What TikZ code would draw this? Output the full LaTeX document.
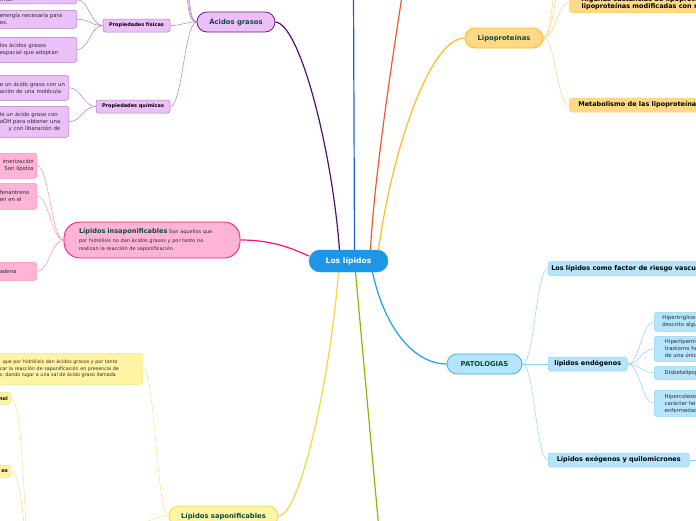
\documentclass[tikz,border=0pt]{standalone}
\usepackage{fontspec}
\setmainfont{DejaVu Sans}
\usetikzlibrary{backgrounds}

\definecolor{rootblue}{HTML}{1E96E8}
\definecolor{dkgreen}{HTML}{0D4A3A}
\definecolor{textgray}{HTML}{2E2E2E}
\definecolor{purpfill}{HTML}{EBC0F8}
\definecolor{purpline}{HTML}{6B2080}
\definecolor{purpbranch}{HTML}{4B1272}
\definecolor{purpsoft}{HTML}{B27CC6}
\definecolor{pinkfill}{HTML}{FFB3D7}
\definecolor{pinkline}{HTML}{F0157A}
\definecolor{pinksoft}{HTML}{F48FC0}
\definecolor{yelfill}{HTML}{FFF4A3}
\definecolor{yelline}{HTML}{F2D83C}
\definecolor{yelsoft}{HTML}{F4E48A}
\definecolor{orgfill}{HTML}{FFD985}
\definecolor{orgline}{HTML}{FFBB22}
\definecolor{orgsoft}{HTML}{FFD27A}
\definecolor{bluefill}{HTML}{B5E5FB}
\definecolor{blueline}{HTML}{3AB0EE}
\definecolor{bluebranch}{HTML}{18A3EA}
\definecolor{bluesoft}{HTML}{8ED4F6}
\definecolor{topblue}{HTML}{1C5ED3}
\definecolor{redor}{HTML}{F05A28}
\definecolor{grnline}{HTML}{86BC00}

\begin{document}
\begin{tikzpicture}[
    x=1pt, y=-1pt,
    rootnode/.style={fill=rootblue, draw=rootblue, rounded corners=11pt, text=white, font=\bfseries\fontsize{7.6}{9}\selectfont, minimum width=79pt, minimum height=22pt, inner sep=0pt},
    topic/.style={rounded corners=10pt, line width=0.8pt, text=dkgreen, font=\bfseries\fontsize{6.8}{8}\selectfont, minimum height=20pt, inner sep=0pt},
    subtopic/.style={rounded corners=2.5pt, line width=0.5pt, text=black, font=\bfseries\fontsize{5}{6}\selectfont, minimum height=13pt, inner xsep=3pt, inner ysep=0pt},
    bigsub/.style={subtopic, font=\bfseries\fontsize{6.5}{7.2}\selectfont, minimum height=14pt, align=left},
    leaf/.style={rounded corners=2.5pt, line width=0.5pt, text=textgray, font=\fontsize{5.4}{6.8}\selectfont, align=left, inner xsep=3pt, inner ysep=0pt},
    branch/.style={line width=1.2pt},
    twig/.style={line width=0.5pt},
    sprL/.style={to path={.. controls +(-#1,0) and +(#1,0) .. (\tikztotarget)}}, sprL/.default=12,
    sprR/.style={to path={.. controls +(#1,0) and +(-#1,0) .. (\tikztotarget)}}, sprR/.default=12
]
  \useasboundingbox (0,0) rectangle (696,520);
  \clip (0,0) rectangle (696,520);

  \node[rootnode] (lip) at (348.5,261) {Los lípidos};

  % Ácidos grasos
  \node[topic, fill=purpfill, draw=purpline, minimum width=78pt] (acid) at (236,22) {Ácidos grasos};
  \node[subtopic, fill=purpfill, draw=purpsoft, minimum width=67pt] (fis) at (136.5,25.5) {Propiedades físicas};
  \node[subtopic, fill=purpfill, draw=purpsoft, minimum width=74pt] (quim) at (133,106.5) {Propiedades químicas};
  \node[leaf, fill=purpfill, draw=purpsoft, anchor=south east, text width=74pt, inner ysep=2pt] (f1) at (77,4) {rmal.};
  \node[leaf, fill=purpfill, draw=purpsoft, anchor=north east, text width=74pt, minimum height=18pt] (f2) at (77,10) {energía necesaria para\\es.};
  \node[leaf, fill=purpfill, draw=purpsoft, anchor=north east, text width=74pt, minimum height=25pt] (f3) at (77,37) {los ácidos grasos\\espacial que adoptan};
  \node[leaf, fill=purpfill, draw=purpsoft, anchor=north east, text width=66pt, minimum height=25pt] (q1) at (69,75) {e un ácido graso con un\\ación de una molécula};
  \node[leaf, fill=purpfill, draw=purpsoft, anchor=north east, text width=66pt, minimum height=31pt] (q2) at (69,106) {le un ácido graso con\\aOH para obtener una\\\hspace*{9pt}y con liberación de};

  % Lípidos insaponificables
  \node[topic, fill=pinkfill, draw=pinkline, minimum width=176pt, minimum height=36pt, rounded corners=16pt, align=left, text width=146pt, text=textgray, font=\fontsize{5}{8.2}\selectfont] (insap) at (152,240) {{\color{dkgreen}\bfseries\fontsize{6.6}{8.2}\selectfont Lípidos insaponificables} Son aquellos que\\por hidrólisis no dan ácidos grasos y por tanto no\\realizan la reacción de saponificación.};
  \node[leaf, fill=pinkfill, draw=pinksoft, anchor=north east, text width=34pt, minimum height=25pt, align=right] (p1) at (37,153) {imerización\\Son lípidos};
  \node[leaf, fill=pinkfill, draw=pinksoft, anchor=north east, text width=34pt, minimum height=26pt] (p2) at (37,183) {fenantreno\\en en el};
  \node[leaf, fill=pinkfill, draw=pinksoft, anchor=north east, text width=34pt, minimum height=18pt] (p3) at (37,262) {adena};

  % Lípidos saponificables
  \node[topic, fill=yelfill, draw=yelline, minimum width=109pt] (sapo) at (223.5,516) {Lípidos saponificables};
  \node[leaf, fill=yelfill, draw=yelsoft, anchor=north east, text width=140pt, minimum height=31pt, font=\fontsize{4.8}{6.6}\selectfont] (s1) at (143,353) {\hspace*{3pt}que por hidrólisis dan ácidos grasos y por tanto\\car la reacción de saponificación en presencia de\\s, dando lugar a una sal de ácido graso llamada};
  \node[subtopic, fill=yelfill, draw=yelsoft, anchor=north east, minimum height=12pt, align=right, text width=20pt] (s2) at (11,392) {nol};
  \node[subtopic, fill=yelfill, draw=yelsoft, anchor=north east, minimum height=12pt, align=right, text width=20pt] (s3) at (11,465) {os};

  % Lipoproteínas
  \node[topic, fill=orgfill, draw=orgline, minimum width=78pt] (lipo) at (504,38) {Lipoproteínas};
  \node[bigsub, fill=orgfill, draw=orgsoft, anchor=south west, minimum width=160pt, inner ysep=3pt] (alg) at (569,13) {Algunas sustancias de lipoproteínas\\lipoproteínas modificadas con riesgo};
  \node[bigsub, fill=orgfill, draw=orgsoft, anchor=west, minimum width=140pt] (meta) at (569,105) {Metabolismo de las lipoproteínas};

  % Patologías
  \node[topic, fill=bluefill, draw=blueline, minimum width=75pt] (pato) at (484.5,364) {PATOLOGIAS};
  \node[bigsub, fill=bluefill, draw=bluesoft, anchor=west, minimum width=160pt] (riesgo) at (548,268.5) {Los lípidos como factor de riesgo vascular};
  \node[bigsub, fill=bluefill, draw=bluesoft, anchor=west, minimum width=79pt] (endo) at (548,364) {lípidos endógenos};
  \node[bigsub, fill=bluefill, draw=bluesoft, anchor=west, minimum width=141pt] (exo) at (548,460) {Lípidos exógenos y quilomicrones};
  \node[leaf, fill=bluefill, draw=bluesoft, anchor=north west, minimum width=60pt, minimum height=19pt] (e1) at (654,312) {Hipertrigliceride\\descrito algun};
  \node[leaf, fill=bluefill, draw=bluesoft, anchor=north west, minimum width=60pt, minimum height=25pt] (e2) at (654,336) {Hiperlipemia f\\trastorno here\\de una única};
  \node[leaf, fill=bluefill, draw=bluesoft, anchor=north west, minimum width=60pt, minimum height=13pt] (e3) at (654,366) {Disbetalipopro};
  \node[leaf, fill=bluefill, draw=bluesoft, anchor=north west, minimum width=60pt, minimum height=26pt] (e4) at (654,390) {Hipercolestero\\carácter here\\enfermedad c};

  % ends of branches that leave the frame
  \coordinate (btop) at (353.5,-10);
  \coordinate (rtop) at (403,-10);
  \coordinate (gbot) at (379,530);
  \coordinate (au1) at (178,-80);
  \coordinate (au2) at (181,-130);
  \coordinate (au3) at (184,-190);
  \coordinate (lo1) at (569,-45);
  \coordinate (lo2) at (569,-100);
  \coordinate (spar) at (32,640);
  \coordinate (exr) at (720,460);

  \begin{scope}[on background layer]
    \clip (0,0) rectangle (696,520);
    \draw[branch, purpbranch] (acid.east) .. controls (300,24) and (332,150) .. ([xshift=-9pt]lip.north);
    \draw[branch, topblue] ([xshift=6pt]lip.north) -- (btop);
    \draw[branch, redor] ([xshift=22pt]lip.north) .. controls (374,180) and (392,60) .. (rtop);
    \draw[branch, orgline] ([xshift=30pt]lip.north) .. controls (392,150) and (430,38) .. (lipo.west);
    \draw[branch, pinkline] (insap.east) .. controls (275,240) and (295,250) .. ([yshift=5pt]lip.west);
    \draw[branch, yelline] (sapo.east) .. controls (300,516) and (330,380) .. ([xshift=-10pt]lip.south);
    \draw[branch, grnline] ([xshift=7pt]lip.south) -- (gbot);
    \draw[branch, bluebranch] ([xshift=24pt]lip.south) .. controls (385,330) and (415,364) .. (pato.west);

    \draw[twig, purpsoft] (acid.west) to[sprL] (fis.east);
    \draw[twig, purpsoft] (acid.west) to[sprL] (quim.east);
    \draw[twig, purpsoft] (acid.west) to[sprL=20] (au1);
    \draw[twig, purpsoft] (acid.west) to[sprL=20] (au2);
    \draw[twig, purpsoft] (acid.west) to[sprL=20] (au3);
    \draw[twig, purpsoft] (fis.west) to[sprL] (f1.east);
    \draw[twig, purpsoft] (fis.west) to[sprL] (f2.east);
    \draw[twig, purpsoft] (fis.west) to[sprL] (f3.east);
    \draw[twig, purpsoft] (quim.west) to[sprL] (q1.east);
    \draw[twig, purpsoft] (quim.west) to[sprL] (q2.east);

    \draw[twig, pinksoft] (insap.west) to[sprL] (p1.east);
    \draw[twig, pinksoft] (insap.west) to[sprL] (p2.east);
    \draw[twig, pinksoft] (insap.west) to[sprL] (p3.east);

    \draw[twig, yelsoft] (sapo.west) to[sprL] (s1.east);
    \draw[twig, yelsoft] (sapo.west) to[sprL=60] (spar);
    \draw[twig, yelsoft] (s2.east) .. controls (22,398) and (24,500) .. (spar);
    \draw[twig, yelsoft] (s3.east) .. controls (22,471) and (26,540) .. (spar);

    \draw[twig, orgsoft] (lipo.east) to[sprR] (alg.west);
    \draw[twig, orgsoft] (lipo.east) to[sprR] (meta.west);
    \draw[twig, orgsoft] (lipo.east) to[sprR] (lo1);
    \draw[twig, orgsoft] (lipo.east) to[sprR] (lo2);

    \draw[twig, bluesoft] (pato.east) to[sprR] (riesgo.west);
    \draw[twig, bluesoft] (pato.east) to[sprR] (endo.west);
    \draw[twig, bluesoft] (pato.east) to[sprR] (exo.west);
    \draw[twig, bluesoft] (endo.east) to[sprR] (e1.west);
    \draw[twig, bluesoft] (endo.east) to[sprR] (e2.west);
    \draw[twig, bluesoft] (endo.east) to[sprR] (e3.west);
    \draw[twig, bluesoft] (endo.east) to[sprR] (e4.west);
    \draw[twig, bluesoft] (exo.east) -- (exr);
  \end{scope}
\end{tikzpicture}
\end{document}
